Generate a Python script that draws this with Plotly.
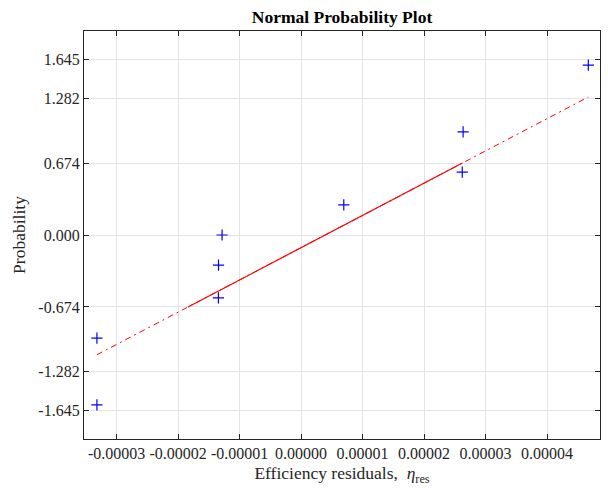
import numpy as np
import plotly.graph_objects as go

# Data: sorted efficiency residuals and their normal quantiles (normplot positions)
residuals = [-3.32e-5, -3.32e-5, -1.345e-5, -1.343e-5, -1.285e-5, 0.694e-5, 2.62e-5, 2.634e-5, 4.67e-5]
quantiles = [-1.593, -0.967, -0.589, -0.282, 0.0, 0.282, 0.589, 0.967, 1.593]

ytick_vals = [-1.645, -1.282, -0.674, 0.0, 0.674, 1.282, 1.645]
ytick_text = ["-1.645", "-1.282", "-0.674", "0.000", "0.674", "1.282", "1.645"]
xtick_vals = [-3e-5, -2e-5, -1e-5, 0.0, 1e-5, 2e-5, 3e-5, 4e-5]
xtick_text = ["-0.00003", "-0.00002", "-0.00001", "0.00000", "0.00001", "0.00002", "0.00003", "0.00004"]

# reference line through 1st and 3rd quartiles (as in normplot)
x = np.array(residuals)
n = len(x)
pos = (np.arange(1, n + 1) - 0.5) / n
q1 = float(np.interp(0.25, pos, x))
q3 = float(np.interp(0.75, pos, x))
z1, z3 = -0.6745, 0.6745
slope = (z3 - z1) / (q3 - q1)
def fit(v):
    return z1 + slope * (v - q1)

xmin, xmax = float(x.min()), float(x.max())

font = "Liberation Serif, Times New Roman, serif"
axis_col = "#262626"
grid_col = "#e3e3e3"

fig = go.Figure()
fig.add_trace(go.Scatter(x=[xmin, xmax], y=[fit(xmin), fit(xmax)], mode="lines",
                         line=dict(color="red", width=1, dash="6px,4px,2px,4px"),
                         showlegend=False, hoverinfo="skip"))
fig.add_trace(go.Scatter(x=[q1, q3], y=[fit(q1), fit(q3)], mode="lines",
                         line=dict(color="red", width=1.2),
                         showlegend=False, hoverinfo="skip"))
fig.add_trace(go.Scatter(x=residuals, y=quantiles, mode="markers",
                         marker=dict(symbol="cross-thin", size=8,
                                     line=dict(color="blue", width=1.2), color="blue"),
                         showlegend=False))

fig.update_layout(
    width=608, height=494,
    margin=dict(l=84, r=8, t=31, b=55),
    paper_bgcolor="white", plot_bgcolor="white",
    font=dict(family=font, size=16, color=axis_col),
    title=dict(text="<b>Normal Probability Plot</b>", x=342 / 608,
               xanchor="center", y=1 - 17 / 494, yanchor="middle",
               font=dict(family=font, size=17.5, color="black")),
    xaxis=dict(range=[-3.53e-5, 4.86e-5], tickvals=xtick_vals, ticktext=xtick_text,
               showgrid=True, gridcolor=grid_col, gridwidth=1, zeroline=False,
               showline=True, linecolor=axis_col, linewidth=1.2, mirror="ticks",
               ticks="inside", ticklen=5, tickcolor=axis_col,
               tickfont=dict(family=font, size=16, color=axis_col),
               title=dict(text="Efficiency residuals,  <i>η</i><sub>res</sub>",
                          font=dict(family=font, size=17.5, color=axis_col), standoff=5)),
    yaxis=dict(range=[-1.912, 1.912], tickvals=ytick_vals, ticktext=ytick_text,
               showgrid=True, gridcolor=grid_col, gridwidth=1, zeroline=False,
               showline=True, linecolor=axis_col, linewidth=1.2, mirror="ticks",
               ticks="inside", ticklen=5, tickcolor=axis_col,
               tickfont=dict(family=font, size=16, color=axis_col),
               title=dict(text="Probability", font=dict(family=font, size=17.5, color=axis_col),
                          standoff=8)),
)

fig.write_html("out.html")
